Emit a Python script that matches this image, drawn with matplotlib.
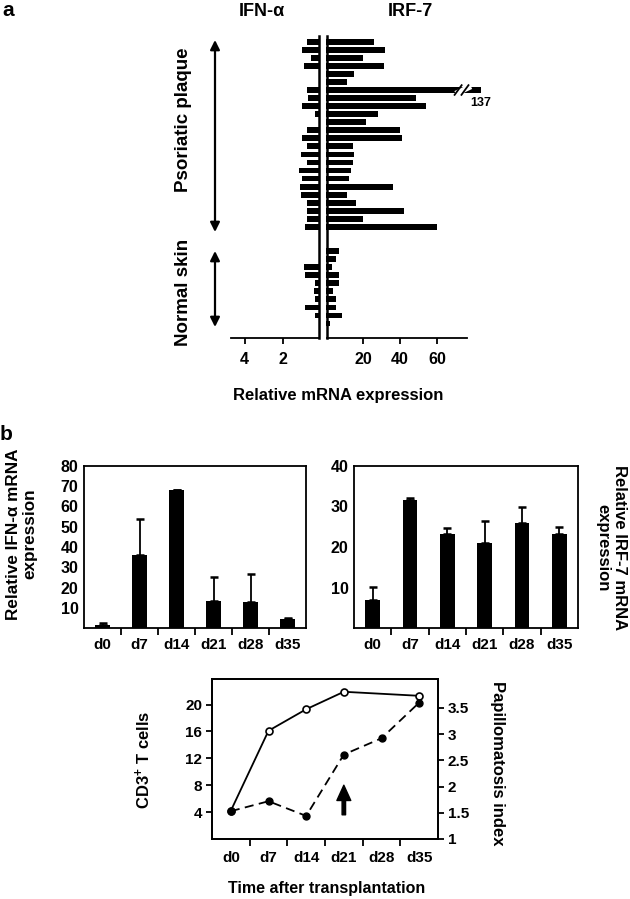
import numpy as np
import matplotlib
matplotlib.use("Agg")
import matplotlib.pyplot as plt

plt.rcParams['font.family'] = ['Liberation Sans', 'DejaVu Sans']
plt.rcParams['font.weight'] = 'bold'
plt.rcParams['mathtext.fontset'] = 'custom'
plt.rcParams['mathtext.rm'] = 'Liberation Sans:bold'
plt.rcParams['mathtext.bf'] = 'Liberation Sans:bold'
plt.rcParams['mathtext.default'] = 'bf'
plt.rcParams['axes.linewidth'] = 1.3

# ---- panel a: per-sample expression (top row first) ----
ifn_plaque = [0.77, 1.04, 0.54, 0.95, 0, 0, 0.77, 0.72, 1.04, 0.37, 0, 0.77,
              1.04, 0.75, 1.07, 0.79, 1.16, 1.04, 1.12, 1.07, 0.79, 0.75, 0.79, 0.88]
irf_plaque = [26, 32, 20, 31.4, 15.3, 11.5, 137, 48.8, 53.9, 28.3, 21.4, 40.2,
              40.9, 14.4, 15.1, 14.4, 13.7, 12.3, 36.4, 11.5, 16.2, 42.3, 20.2, 59.8]
ifn_normal = [0, 0, 0.95, 0.89, 0.37, 0.41, 0.37, 0.86, 0.37, 0]
irf_normal = [6.8, 5.2, 3.1, 6.8, 6.8, 4.0, 5.2, 5.2, 8.6, 2.0]
ifn_ticks = [4, 2]
irf_ticks = [20, 40, 60]

# ---- panel b ----
days = ["d0", "d7", "d14", "d21", "d28", "d35"]
ifn_mean = [1.4, 36.0, 68.1, 13.5, 12.9, 4.3]
ifn_err = [0.9, 17.6, 0, 11.5, 13.7, 0.5]
irf_mean = [6.9, 31.5, 23.3, 21.1, 26.0, 23.3]
irf_err = [3.3, 0.6, 1.5, 5.3, 4.0, 1.7]

cd3_days = ["d0", "d7", "d14", "d21", "d35"]
cd3 = [4.2, 16.1, 19.3, 21.9, 21.3]
papillo = [1.53, 1.72, 1.44, 2.61, 2.92, 3.60]

W, H = 630, 899


def px(x0, y0, x1, y1):
    return [x0 / W, 1 - y1 / H, (x1 - x0) / W, (y1 - y0) / H]


def ftext(x, y, s, **kw):
    fig.text(x / W, 1 - y / H, s, ha='center', va='center', **kw)


fig = plt.figure(figsize=(6.3, 8.99), dpi=100)

# ================= panel a =================
n_pl = len(ifn_plaque)
pos = np.r_[np.arange(n_pl), n_pl + 2 + np.arange(len(ifn_normal))]
ifn_all = np.array(ifn_plaque + ifn_normal)
irf_all = np.array(irf_plaque + irf_normal)

axL = fig.add_axes(px(231, 36, 319, 338))
axL.barh(pos, ifn_all, height=0.72, color='k')
axL.set_xlim(4.7, 0.15)
axL.set_ylim(36.8, -0.71)
axL.spines[['top', 'left']].set_visible(False)
axL.spines['right'].set_linewidth(1.8)
axL.set_yticks([])
axL.set_xticks(ifn_ticks)
axL.tick_params(axis='x', length=4, width=1.3, labelsize=11.5, pad=6)

cap = 84
axR = fig.add_axes(px(327, 36, 467, 338))
axR.barh(pos, np.minimum(irf_all, cap), height=0.72, color='k', clip_on=False)
axR.set_xlim(0.5, 76.2)
axR.set_ylim(36.8, -0.71)
axR.spines[['top', 'right']].set_visible(False)
axR.spines['left'].set_linewidth(1.8)
axR.set_yticks([])
axR.set_xticks(irf_ticks)
axR.tick_params(axis='x', length=4, width=1.3, labelsize=11.5, pad=6)

# axis break on the longest bar
i = int(np.argmax(irf_all))
yb = pos[i]
axR.plot([71.4, 77.0], [yb + 0.3, yb - 0.3], color='white', lw=4, clip_on=False)
for xs in (71.4, 75.1):
    axR.plot([xs - 1.9, xs + 1.9], [yb + 0.6, yb - 0.6], color='k', lw=1.3,
             clip_on=False)
axR.text(83.8, yb + 1.6, str(irf_all[i]).rstrip('0').rstrip('.'), ha='center',
         va='center', fontsize=9, clip_on=False)

ftext(262, 11, "IFN-α", fontsize=13)
ftext(410, 11, "IRF-7", fontsize=13)
ftext(338, 395, "Relative mRNA expression", fontsize=12)
ftext(183, 120, "Psoriatic plaque", rotation=90, fontsize=13.5)
ftext(183, 292, "Normal skin", rotation=90, fontsize=13.5)
fig.text(2 / W, 1 - 10 / H, "a", fontsize=15, ha='left', va='center')

for y0, y1 in ((40, 232), (251, 327)):
    axL.annotate("", xy=(215 / W, 1 - y0 / H), xytext=(215 / W, 1 - y1 / H),
                 xycoords='figure fraction', textcoords='figure fraction',
                 annotation_clip=False,
                 arrowprops=dict(arrowstyle='<|-|>', color='k', lw=1.6,
                                 mutation_scale=14, shrinkA=0, shrinkB=0))

# ================= panel b bars =================
fig.text(0 / W, 1 - 434 / H, "b", fontsize=15, ha='left', va='center')
x = np.arange(len(days))


def bar_panel(box, mean, err, ylim, yticks):
    ax = fig.add_axes(px(*box))
    ax.bar(x, mean, width=0.4, color='k')
    ax.errorbar(x, mean, yerr=[np.zeros(len(err)), err], fmt='none', ecolor='k',
                elinewidth=1.3, capsize=3, capthick=1.8)
    ax.set_xlim(-0.5, len(days) - 0.5)
    ax.set_ylim(*ylim)
    ax.set_yticks(yticks)
    ax.set_xticks(x, days)
    ax.set_xticks(x[:-1] + 0.5, minor=True)
    ax.tick_params(axis='x', which='major', length=0, pad=7, labelsize=11)
    ax.tick_params(axis='x', which='minor', length=5, width=1.3)
    ax.tick_params(axis='y', length=0, pad=4, labelsize=11.5)
    return ax


bar_panel((84, 466, 306, 628), ifn_mean, ifn_err, (0, 80), range(10, 81, 10))
bar_panel((354, 466, 578, 628), irf_mean, irf_err, (0, 40), range(10, 41, 10))
ftext(22, 534, "Relative IFN-α mRNA\nexpression", rotation=90, fontsize=12.3,
      multialignment='center', linespacing=1.1)
ftext(611, 548, "Relative IRF-7 mRNA\nexpression", rotation=-90, fontsize=12,
      multialignment='center', linespacing=1.1)

# ================= panel b lines =================
ax3 = fig.add_axes(px(212, 679, 438, 839))
ax3r = ax3.twinx()
cd3_x = [days.index(d) for d in cd3_days]
ax3.plot(cd3_x, cd3, color='k', lw=1.3, marker='o', ms=5, mfc='white',
         mec='k', mew=1.2, zorder=3)
ax3r.plot(x, papillo, color='k', lw=1.3, ls=(0, (5, 3)), marker='o', ms=5)
ax3.set_xlim(-0.5, len(days) - 0.5)
ax3.set_ylim(0, 23.8)
ax3.set_yticks([4, 8, 12, 16, 20])
ax3r.set_ylim(1, 4.05)
ax3r.set_yticks([1, 1.5, 2, 2.5, 3, 3.5], ['1', '1.5', '2', '2.5', '3', '3.5'])
ax3.set_xticks(x, days)
ax3.set_xticks(x[:-1] + 0.5, minor=True)
ax3.tick_params(axis='x', which='major', length=0, pad=9, labelsize=11)
ax3.tick_params(axis='x', which='minor', length=5, width=1.3)
ax3.tick_params(axis='y', length=4, width=1.3, labelsize=11, pad=3)
ax3r.tick_params(axis='y', length=4, width=1.3, labelsize=11, pad=3)
for sp in ax3r.spines.values():
    sp.set_linewidth(1.3)
ax3.annotate("", xy=(3, 8.0), xytext=(3, 3.6),
             arrowprops=dict(width=2.5, headwidth=10, headlength=11,
                             color='k', shrink=0))

ftext(143, 760, "CD3$^{+}$ T cells", rotation=90, fontsize=12)
ftext(498, 763, "Papillomatosis index", rotation=-90, fontsize=12)
ftext(327, 888, "Time after transplantation", fontsize=11.5)

fig.savefig("out.png", dpi=100)
